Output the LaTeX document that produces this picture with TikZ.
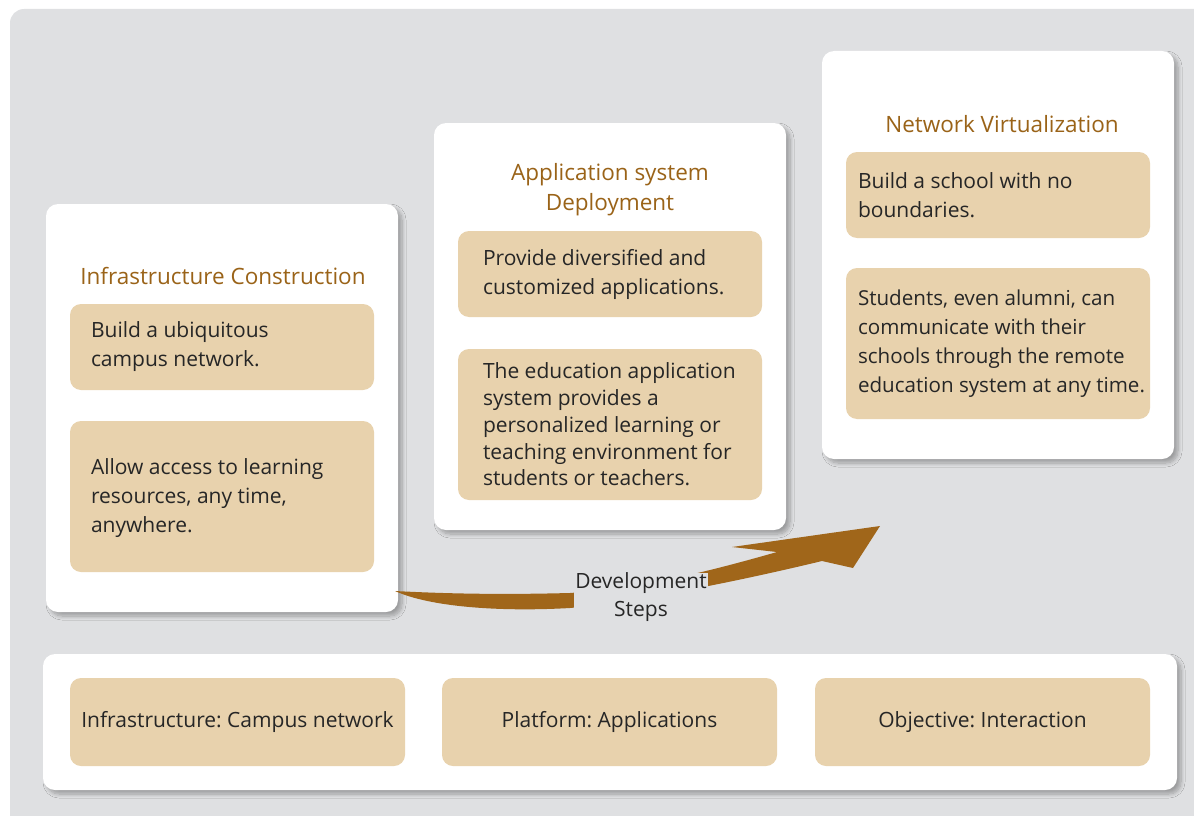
\documentclass[tikz,border=0pt]{standalone}
\usepackage{fontspec}
\setmainfont{Open Sans}
\frenchspacing
\usetikzlibrary{shadows.blur}
\definecolor{bgpanel}{HTML}{DFE0E2}
\definecolor{tanc}{HTML}{E8D2AD}
\definecolor{headc}{HTML}{9A6318}
\definecolor{arrowc}{HTML}{A0661A}
\definecolor{txtc}{HTML}{262626}
\tikzset{
  whitebox/.style={fill=white, rounded corners=12pt, inner sep=0pt,
    blur shadow={shadow xshift=4pt, shadow yshift=-4pt, shadow blur radius=4pt, shadow blur steps=8, shadow opacity=30}},
  tanbox/.style={fill=tanc, rounded corners=11pt, inner sep=0pt, minimum width=304pt},
  bodytxt/.style={text=txtc, align=left, inner sep=0pt, anchor=west,
    font=\fontsize{21}{29}\selectfont},
  headtxt/.style={text=headc, align=center, inner sep=0pt,
    font=\fontsize{22.5}{29.5}\selectfont},
  bottxt/.style={text=txtc, font=\fontsize{21}{29}\selectfont},
}
\begin{document}
\begin{tikzpicture}[x=1pt,y=-1pt]
\useasboundingbox (0,0) rectangle (1194,816);
\fill[bgpanel, rounded corners=14pt] (10,9) rectangle (1230,850);

% white boxes
\node[whitebox, minimum width=352pt, minimum height=408pt] (b1) at (222,408) {};
\node[whitebox, minimum width=352pt, minimum height=407pt] (b2) at (610,326.5) {};
\node[whitebox, minimum width=352pt, minimum height=408pt] (b3) at (998,255) {};
\node[whitebox, minimum width=1134pt, minimum height=136pt] (b4) at (610,722) {};

% headers
\node[headtxt] (h1) at (223,276) {Infrastructure Construction};
\node[headtxt] (h2) at (610,189.5) {Application system\\Deployment};
\node[headtxt] (h3) at (1002,124) {Network Virtualization};

% tan boxes column 1
\node[tanbox, minimum height=86pt] (t11) at (222,347) {};
\node[bodytxt] at ([xshift=21pt]t11.west) {Build a ubiquitous\\campus network.};
\node[tanbox, minimum height=151pt] (t12) at (222,496.5) {};
\node[bodytxt] at ([xshift=21pt,yshift=-2pt]t12.west) {Allow access to learning\\resources, any time,\\anywhere.};

% column 2
\node[tanbox, minimum height=86pt] (t21) at (610,274) {};
\node[bodytxt] at ([xshift=25pt]t21.west) {Provide diversified and\\customized applications.};
\node[tanbox, minimum height=151pt] (t22) at (610,424.5) {};
\node[bodytxt, font=\fontsize{21}{26.75}\selectfont] at ([xshift=25pt]t22.west) {The education application\\system provides a\\personalized learning or\\teaching environment for\\students or teachers.};

% column 3
\node[tanbox, minimum height=86pt] (t31) at (998,195) {};
\node[bodytxt] at ([xshift=12pt]t31.west) {Build a school with no\\boundaries.};
\node[tanbox, minimum height=151pt] (t32) at (998,343.5) {};
\node[bodytxt, font=\fontsize{20.6}{29}\selectfont] at ([xshift=12pt]t32.west) {Students, even alumni, can\\communicate with their\\schools through the remote\\education system at any time.};

% bottom row
\node[tanbox, minimum width=335pt, minimum height=88pt, bottxt] (p1) at (237.5,722) {Infrastructure: Campus network};
\node[tanbox, minimum width=335pt, minimum height=88pt, bottxt] (p2) at (609.5,722) {Platform: Applications};
\node[tanbox, minimum width=335pt, minimum height=88pt, bottxt] (p3) at (982.5,722) {Objective: Interaction};

% development arrow
\fill[arrowc] (395,591) .. controls (470,595) and (530,594) .. (570,593)
  .. controls (640,588) and (700,574) .. (777,552) -- (732,547) -- (880,526)
  -- (853,568) -- (822,561)
  .. controls (760,576) and (650,600) .. (570,608)
  .. controls (500,612) and (430,607) .. (395,591) -- cycle;
\node[fill=bgpanel, text=txtc, align=center, inner xsep=1pt, inner ysep=0pt,
  font=\fontsize{21}{28}\selectfont] (dev) at (641,597) {Development\\Steps};
\end{tikzpicture}
\end{document}
